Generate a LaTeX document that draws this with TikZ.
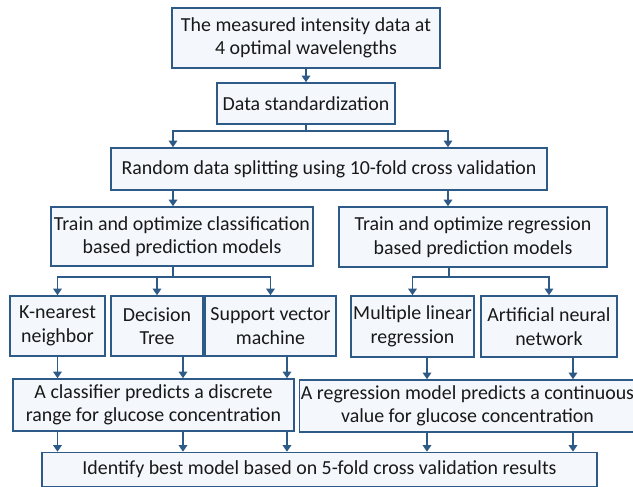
\documentclass[tikz,border=0pt]{standalone}
\usepackage{fontspec}
\setmainfont{Carlito}
\usetikzlibrary{arrows.meta}
\definecolor{boxline}{RGB}{46,90,136}
\definecolor{boxfill}{RGB}{244,247,251}
\tikzset{
  box/.style={draw=boxline, fill=boxfill, line width=1.6pt, inner sep=0pt, align=center,
    text=black!90, font=\fontsize{19.9}{23.5}\selectfont},
  arr/.style={draw=boxline, line width=1.5pt, -{Triangle[width=8.5pt,length=6.5pt]}},
  seg/.style={draw=boxline, line width=1.5pt}
}

\begin{document}
\begin{tikzpicture}[x=1pt,y=-1pt]
    \useasboundingbox (0,0) rectangle (633,487); % fixes the page size

    \node[box, minimum width=268, minimum height=60] (data) at (306,38) {The measured intensity data at\\4 optimal wavelengths};
    \node[box, minimum width=178, minimum height=41] (std) at (306,103.5) {Data standardization};
    \node[box, minimum width=436, minimum height=42] (split) at (329,169) {Random data splitting using 10-fold cross validation};
    \node[box, minimum width=262, minimum height=59] (cls) at (182,236.5) {Train and optimize classification\\based prediction models};
    \node[box, minimum width=268, minimum height=60] (reg) at (473,237) {Train and optimize regression\\based prediction models};

    \node[box, minimum width=95, minimum height=60] (knn) at (57.5,326) {K-nearest\\neighbor};
    \node[box, minimum width=92, minimum height=60] (dt) at (157,326) {Decision\\Tree};
    \node[box, minimum width=131, minimum height=60] (svm) at (270.5,326) {Support vector\\machine};
    \node[box, minimum width=123, minimum height=61] (mlr) at (412.5,326.5) {Multiple linear\\regression};
    \node[box, minimum width=136, minimum height=61] (ann) at (549,326.5) {Artificial neural\\network};

    \node[box, minimum width=281, minimum height=52] (clsout) at (153.5,405) {A classifier predicts a discrete\\range for glucose concentration};
    \node[box, minimum width=336, minimum height=52] (regout) at (467.5,406) {A regression model predicts a continuous\\value for glucose concentration};
    \node[box, minimum width=555, minimum height=34] (best) at (319.5,469.5) {Identify best model based on 5-fold cross validation results};

    \coordinate (ll) at (173,131);
    \coordinate (lr) at (448,131);
    \coordinate (jc) at (173,277);
    \coordinate (jr) at (449,277);
    \coordinate (l2) at ([xshift=26pt]dt.south);
    \coordinate (l3) at ([xshift=16.5pt]svm.south);
    \coordinate (l4) at ([xshift=14.5pt]mlr.south);
    \coordinate (l5) at ([xshift=24pt]ann.south);

    \draw[arr] (data) -- (std);
    \draw[arr] (std.south) |- (ll) -- (ll |- split.north);
    \draw[arr] (std.south) |- (lr) -- (lr |- split.north);
    \draw[arr] (split.south -| ll) -- (cls.north -| ll);
    \draw[arr] (split.south -| lr) -- (reg.north -| lr);

    \draw[seg] (cls.south -| jc) -- (jc);
    \draw[arr] (jc) -| (knn.north);
    \draw[arr] (jc) -| (dt.north);
    \draw[arr] (jc) -| (svm.north);
    \draw[seg] (reg.south -| jr) -- (jr);
    \draw[arr] (jr) -| (mlr.north);
    \draw[arr] (jr) -| (ann.north);

    \draw[arr] (knn.south) -- (knn.south |- clsout.north);
    \draw[arr] (l2) -- (l2 |- clsout.north);
    \draw[arr] (l3) -- (l3 |- clsout.north);
    \draw[arr] (l4) -- (l4 |- regout.north);
    \draw[arr] (l5) -- (l5 |- regout.north);

    \draw[arr] (clsout.south -| knn) -- (best.north -| knn);
    \draw[arr] (clsout.south -| l2) -- (best.north -| l2);
    \draw[arr] (clsout.south -| l3) -- (best.north -| l3);
    \draw[arr] (regout.south -| l4) -- (best.north -| l4);
    \draw[arr] (regout.south -| l5) -- (best.north -| l5);
\end{tikzpicture}
\end{document}
